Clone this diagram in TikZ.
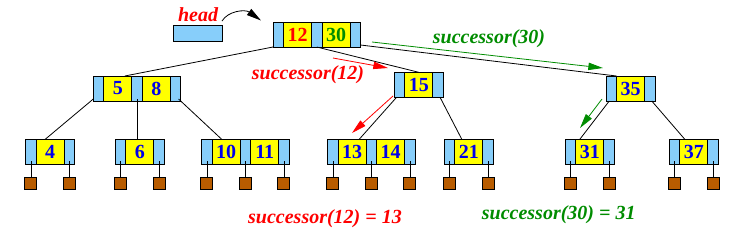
\documentclass[tikz,border=0pt]{standalone}
\usepackage{fontspec}
\setmainfont{Liberation Serif}
\usetikzlibrary{arrows.meta,calc}
\definecolor{ptrblue}{RGB}{135,206,250}
\definecolor{keyyel}{RGB}{255,255,0}
\definecolor{numblue}{RGB}{0,0,235}
\definecolor{sgreen}{RGB}{0,140,0}
\definecolor{sred}{RGB}{255,0,0}
\definecolor{leafbrown}{RGB}{184,92,0}
\tikzset{
  ptr/.style={draw=black, fill=ptrblue, line width=0.75pt, minimum width=7.875pt, minimum height=18.75pt, inner sep=0pt, outer sep=0pt, anchor=west},
  keycell/.style={draw=black, fill=keyyel, line width=0.75pt, minimum width=21pt, minimum height=18.75pt, inner sep=0pt, outer sep=0pt, anchor=west, font=\fontsize{15}{15}\selectfont\bfseries, text=numblue},
  leafsq/.style={draw=black, fill=leafbrown, line width=0.75pt, minimum size=9pt, inner sep=0pt, outer sep=0pt, anchor=north},
  edge/.style={line width=0.6pt},
  lbl/.style={font=\fontsize{15}{15}\selectfont\bfseries\itshape, inner sep=0pt, anchor=base},
  sarrow/.style={line width=0.6pt, -{Triangle[length=11pt,width=5.5pt]}},
}
\newcommand\bkone[5]{%
  \node[ptr] (#1-p0) at (#2,{#3+12.5}) {};
  \node[keycell,text=#5] (#1-k1) at (#1-p0.east) {#4};
  \node[ptr] (#1-p1) at (#1-k1.east) {};
}
\newcommand\bktwo[7]{%
  \node[ptr] (#1-p0) at (#2,{#3+12.5}) {};
  \node[keycell,text=#5] (#1-k1) at (#1-p0.east) {#4};
  \node[ptr] (#1-p1) at (#1-k1.east) {};
  \node[keycell,text=#7] (#1-k2) at (#1-p1.east) {#6};
  \node[ptr] (#1-p2) at (#1-k2.east) {};
}
\begin{document}
\begin{tikzpicture}[x=0.75pt,y=-0.75pt]
\useasboundingbox (0,0) rectangle (752,244);

% tree nodes
\bktwo{root}{273}{22}{12}{sred}{30}{sgreen}
\bktwo{n58}{93.3}{76}{5}{numblue}{8}{numblue}
\bkone{n15}{394.3}{72.3}{15}{numblue}
\bkone{n35}{606}{76}{35}{numblue}
\bkone{n4}{25.7}{139.3}{4}{numblue}
\bkone{n6}{115.3}{139.3}{6}{numblue}
\bktwo{n1011}{201.7}{139.3}{10}{numblue}{11}{numblue}
\bktwo{n1314}{327.7}{139.3}{13}{numblue}{14}{numblue}
\bkone{n21}{444.3}{139.3}{21}{numblue}
\bkone{n31}{565.3}{139.3}{31}{numblue}
\bkone{n37}{669.3}{139.3}{37}{numblue}

% tree edges
\draw[edge] (root-p0.south west) -- ($(n58-k1.north east)+(-7,0)$);
\draw[edge] (root-p1.south) -- (n15-k1.north);
\draw[edge] ($(root-p2.south east)+(0,-2)$) -- (n35-p0.north east);
\draw[edge] ($(n58-p0.south west)+(0,-2)$) -- ($(n4-k1.north west)+(9,0)$);
\draw[edge] ($(n58-p1.south)+(0,-2)$) -- (n58-p1.south |- n6-k1.north);
\draw[edge] ($(n58-p2.south)+(3,-2)$) -- ($(n1011-k1.north west)+(9.5,0)$);
\draw[edge] ($(n15-p0.south)+(-3,0)$) -- ($(n1314-k1.north)+(7,0)$);
\draw[edge] ($(n15-p1.south)+(2,0)$) -- ($(n21-k1.north west)+(7,0)$);
\draw[edge] ($(n35-p0.south)+(-2,0)$) -- ($(n31-k1.north west)+(4,0)$);
\draw[edge] ($(n35-p1.south)+(2,0)$) -- ($(n37-k1.north west)+(5,0)$);

% leaves
\foreach \c in {n4-p0,n4-p1,n6-p0,n6-p1,n1011-p0,n1011-p1,n1011-p2,n1314-p0,n1314-p1,n1314-p2,n21-p0,n21-p1,n31-p0,n31-p1,n37-p0,n37-p1}{
  \node[leafsq] (\c-leaf) at ($(\c.south)+(0,12.7)$) {};
  \draw[edge] ($(\c.south)+(0,-3)$) -- (\c-leaf.north);
}

% head
\node[draw=black, fill=ptrblue, line width=0.75pt, minimum width=36.75pt, minimum height=12pt, inner sep=0pt] (headbox) at (197.8,33.3) {};
\node[lbl, text=sred] (headlbl) at (198,21) {head};
\coordinate (hs) at (222,21);
\coordinate (he) at (261,20.5);
\draw[sarrow] (hs) .. controls (228,11) and (245,9) .. (he);

% successor arrows
\coordinate (ra1s) at (333,58);
\coordinate (ra1e) at (388,68);
\coordinate (ra2s) at (393,96);
\coordinate (ra2e) at (352,133);
\coordinate (ga1s) at (372,42);
\coordinate (ga1e) at (603,68);
\coordinate (ga2s) at (602,99);
\coordinate (ga2e) at (580,128);
\draw[sarrow, sred] (ra1s) -- (ra1e);
\draw[sarrow, sred] (ra2s) -- (ra2e);
\draw[sarrow, sgreen] (ga1s) -- (ga1e);
\draw[sarrow, sgreen] (ga2s) -- (ga2e);

% labels
\node[lbl, text=sred] (l12) at (308,79) {successor(12)};
\node[lbl, text=sgreen] (l30) at (489,43) {successor(30)};
\node[lbl, text=sred] (r12) at (325,223) {successor(12) = 13};
\node[lbl, text=sgreen] (r30) at (558.7,219) {successor(30) = 31};
\end{tikzpicture}
\end{document}
